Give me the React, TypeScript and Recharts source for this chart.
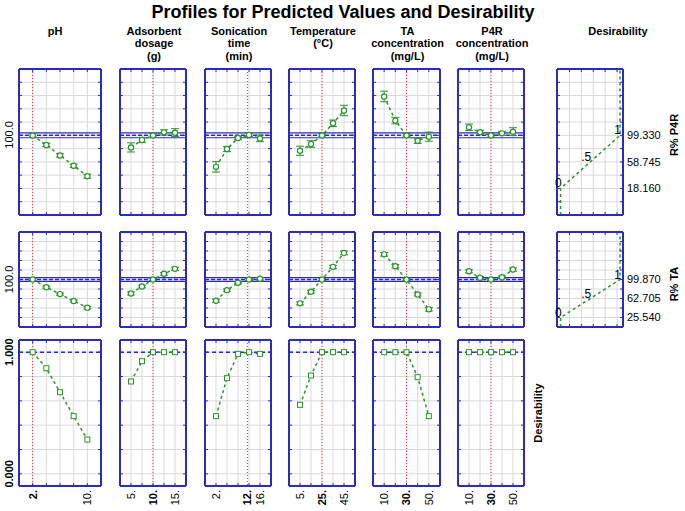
import React from "react";
import {
  LineChart, Line, XAxis, YAxis, CartesianGrid,
  ReferenceLine, ErrorBar, LabelList,
} from "recharts";

const FONT = "'Liberation Sans', Arial, sans-serif";
const BLUE = "#2b2bbf";
const GREEN = "#2a962a";
const RED = "#e23b3b";
const GRID = "#d9d9d9";

// factors (columns)
const HEADERS = [
  ["pH"],
  ["Adsorbent", "dosage", "(g)"],
  ["Sonication", "time", "(min)"],
  ["Temperature", "(°C)"],
  ["TA", "concentration", "(mg/L)"],
  ["P4R", "concentration", "(mg/L)"],
];
const X_LEVELS = [
  [2, 4, 6, 8, 10],
  [5, 7.5, 10, 12.5, 15],
  [2, 5.5, 9, 12.5, 16],
  [5, 15, 25, 35, 45],
  [10, 20, 30, 40, 50],
  [10, 20, 30, 40, 50],
];
const X_CURRENT = [2, 10, 12, 25, 30, 30];
const X_LABELS = [[2, 10], [5, 10, 15], [2, 12, 16], [5, 25, 45], [10, 30, 50], [10, 30, 50]];

// responses
const P4R_VALUES = [
  [99.3, 84.6, 68.6, 52.8, 36.9],
  [80.9, 92.3, 99.3, 103.9, 103.5],
  [51.2, 78.4, 95.3, 100.0, 94.7],
  [75.8, 86.1, 99.3, 117.8, 137.3],
  [158.8, 121.9, 99.3, 91.1, 97.3],
  [111.6, 104.0, 99.3, 102.4, 105.0],
];
const P4R_ERRORS = [
  [2.5, 2.5, 2.5, 2.5, 3],
  [7, 4, 2.5, 4, 6],
  [8, 4, 2.5, 2.5, 5],
  [7, 5, 2.5, 5, 8],
  [8, 5, 2.5, 4, 7],
  [5, 3, 2.5, 3, 6],
];
const TA_VALUES = [
  [99.9, 84.9, 71.3, 57.7, 44.8],
  [72.6, 86.2, 99.9, 111.0, 120.7],
  [58.4, 79.0, 93.4, 99.9, 101.2],
  [53.2, 75.9, 99.9, 124.6, 151.8],
  [149.1, 125.8, 99.9, 70.7, 41.5],
  [116.0, 103.2, 99.9, 104.3, 119.3],
];
const TA_ERRORS = [
  [2, 2, 2, 2, 2.5],
  [3, 2.5, 2, 2.5, 3],
  [3, 2.5, 2, 2, 2.5],
  [3, 2.5, 2, 3, 3.5],
  [3.5, 3, 2, 3, 3.5],
  [3, 2.5, 2, 2.5, 3],
];
const DESIR_VALUES = [
  [1.0, 0.868, 0.671, 0.474, 0.282],
  [0.759, 0.926, 1.0, 1.0, 1.0],
  [0.474, 0.786, 0.986, 1.0, 0.986],
  [0.567, 0.808, 1.0, 1.0, 1.0],
  [1.0, 1.0, 1.0, 0.795, 0.474],
  [1.0, 1.0, 1.0, 1.0, 1.0],
];

const P4R_PRED = 99.33;
const P4R_CI = [95.7, 103.0];
const TA_PRED = 99.87;
const TA_CI = [96.3, 103.4];
const P4R_LIMITS = [18.16, 58.745, 99.33];
const TA_LIMITS = [25.54, 62.705, 99.87];
const DESIR_LEVELS = [0, 0.5, 1];
const DESIR_MARKS = ["0", ".5", "1"];
const DESIR_TICKS = [0, 1];
const DESIR_GRID = [0, 0.2, 0.4, 0.6, 0.8, 1];
const DESIR_XGRID = [0.15, 0.35, 0.55, 0.75, 0.95];

// layout
const COL_LEFT = [19, 120, 205, 289, 373, 458];
const COL_W = [82, 66, 66, 66, 67, 66];
const D_LEFT = 557;
const D_W = 66;
const MT = 4;

const noTick = () => <g />;

type Pt = { x: number; y: number; err?: number; mark?: string };

interface PanelOpts {
  left: number; top: number; width: number; height: number;
  ml: number; mr: number; mb: number;
  data: Pt[];
  xDomain: [number, number]; xGrid: number[];
  yDomain: [number, number]; yGrid: number[];
  current?: number;
  band?: { pred: number; lo: number; hi: number };
  target?: number;
  marker: "circle" | "square" | "none";
  xLabels?: number[];
  leftLabels?: { values: number[]; digits: number; bold: boolean };
  rightLabels?: number[];
}

function Panel(o: PanelOpts) {
  const W = o.ml + o.width + o.mr;
  const H = MT + o.height + o.mb;
  const bottom = MT + o.height;
  const frame = { stroke: BLUE, strokeWidth: 2 };

  const xLabelTick = (p: any) => {
    const v = p.payload.value;
    const y = bottom + 4;
    return (
      <text x={p.x} y={y} transform={`rotate(-90 ${p.x} ${y})`} dy="0.35em" textAnchor="end"
        fontSize={11} fontFamily={FONT} fill="#000" fontWeight={v === o.current ? "bold" : "normal"}>
        {v}.
      </text>
    );
  };
  const yLabelTick = (p: any) => (
    <text x={9} y={p.y} transform={`rotate(-90 9 ${p.y})`} dy="0.35em" textAnchor="middle"
      fontSize={11} fontFamily={FONT} fill="#000" fontWeight={o.leftLabels?.bold ? "bold" : "normal"}>
      {Number(p.payload.value).toFixed(o.leftLabels?.digits ?? 1)}
    </text>
  );
  const rLabelTick = (p: any) => (
    <text x={o.ml + o.width + 4} y={p.y} dy="0.35em" textAnchor="start"
      fontSize={11} fontFamily={FONT} fill="#000">
      {Number(p.payload.value).toFixed(3)}
    </text>
  );
  const markLabel = (p: any) =>
    p.value ? (
      <text x={p.x + 1} y={p.y - 1} textAnchor="end" fontSize={12} fontFamily={FONT} fill="#000">
        {p.value}
      </text>
    ) : null;
  const squareDot = (p: any) => (
    <rect key={p.index} x={p.cx - 2.5} y={p.cy - 2.5} width={5} height={5} fill="#fff" stroke={GREEN} strokeWidth={1} />
  );

  return (
    <div style={{ position: "absolute", left: o.left - o.ml, top: o.top - MT }}>
      <LineChart width={W} height={H} data={o.data} margin={{ top: MT, right: o.mr, bottom: o.mb, left: o.ml }}>
        <CartesianGrid xAxisId="g" yAxisId="g" stroke={GRID} strokeWidth={1} />
        <XAxis xAxisId="g" orientation="top" mirror type="number" dataKey="x" domain={o.xDomain} allowDataOverflow
          ticks={o.xGrid} interval={0} tickSize={3} tick={noTick} tickLine={{ stroke: BLUE }} axisLine={frame} />
        <XAxis xAxisId="b" orientation="bottom" mirror type="number" dataKey="x" domain={o.xDomain} allowDataOverflow
          ticks={o.xGrid} interval={0} tickSize={3} tick={noTick} tickLine={{ stroke: BLUE }} axisLine={frame} />
        {o.xLabels && (
          <XAxis xAxisId="lab" orientation="bottom" mirror type="number" dataKey="x" domain={o.xDomain} allowDataOverflow
            ticks={o.xLabels} interval={0} tick={xLabelTick} tickLine={false} axisLine={false} />
        )}
        <YAxis yAxisId="g" orientation="left" mirror type="number" domain={o.yDomain} allowDataOverflow
          ticks={o.yGrid} interval={0} tickSize={3} tick={noTick} tickLine={{ stroke: BLUE }} axisLine={frame} />
        <YAxis yAxisId="r" orientation="right" mirror type="number" domain={o.yDomain} allowDataOverflow
          ticks={o.yGrid} interval={0} tickSize={3} tick={noTick} tickLine={{ stroke: BLUE }} axisLine={frame} />
        {o.leftLabels && (
          <YAxis yAxisId="ll" orientation="left" mirror type="number" domain={o.yDomain} allowDataOverflow
            ticks={o.leftLabels.values} interval={0} tick={yLabelTick} tickLine={false} axisLine={false} />
        )}
        {o.rightLabels && (
          <YAxis yAxisId="rl" orientation="right" mirror type="number" domain={o.yDomain} allowDataOverflow
            ticks={o.rightLabels} interval={0} tick={rLabelTick} tickLine={false} axisLine={false} />
        )}
        {o.band && <ReferenceLine xAxisId="g" yAxisId="g" y={o.band.lo} stroke={BLUE} strokeWidth={1.2} />}
        {o.band && <ReferenceLine xAxisId="g" yAxisId="g" y={o.band.hi} stroke={BLUE} strokeWidth={1.2} />}
        {o.band && <ReferenceLine xAxisId="g" yAxisId="g" y={o.band.pred} stroke={BLUE} strokeWidth={1.5} strokeDasharray="4 2" />}
        {o.target != null && <ReferenceLine xAxisId="g" yAxisId="g" y={o.target} stroke={BLUE} strokeWidth={1.5} strokeDasharray="4 3" />}
        {o.current != null && <ReferenceLine xAxisId="g" yAxisId="g" x={o.current} stroke={RED} strokeWidth={1} strokeDasharray="1 2" />}
        <Line xAxisId="g" yAxisId="g" dataKey="y" type="linear" isAnimationActive={false}
          stroke={GREEN} strokeWidth={1.5} strokeDasharray="3 3"
          dot={o.marker === "circle" ? { r: 2.6, stroke: GREEN, strokeWidth: 1.2, fill: "#fff", strokeDasharray: "" } : o.marker === "square" ? squareDot : false}
          activeDot={false}>
          {o.marker === "circle" && <ErrorBar dataKey="err" width={4} stroke={GREEN} strokeWidth={1} direction="y" />}
          {o.marker === "none" && <LabelList dataKey="mark" content={markLabel} />}
        </Line>
      </LineChart>
    </div>
  );
}

const RESPONSE_ROWS = [
  { top: 69, h: 146, values: P4R_VALUES, errors: P4R_ERRORS, pred: P4R_PRED, ci: P4R_CI, limits: P4R_LIMITS, below: 6, above: 5 },
  { top: 232, h: 95, values: TA_VALUES, errors: TA_ERRORS, pred: TA_PRED, ci: TA_CI, limits: TA_LIMITS, below: 5, above: 5 },
];
const DESIR_ROW = { top: 340, h: 146 };

export default function App() {
  const panels: React.ReactNode[] = [];

  RESPONSE_ROWS.forEach((row, r) => {
    const step = (row.limits[2] - row.limits[0]) / 4;
    const yDomain: [number, number] = [row.limits[2] - row.below * step, row.limits[2] + row.above * step];
    const yGrid: number[] = [];
    for (let k = -(row.below - 1); k <= row.above - 1; k++) yGrid.push(row.limits[2] + k * step);

    X_LEVELS.forEach((lv, c) => {
      const xs = lv[1] - lv[0];
      const data = lv.map((x, i) => ({ x, y: row.values[c][i], err: row.errors[c][i] }));
      panels.push(
        <Panel key={`r${r}c${c}`} left={COL_LEFT[c]} top={row.top} width={COL_W[c]} height={row.h}
          ml={c === 0 ? 19 : 6} mr={6} mb={4} data={data}
          xDomain={[lv[0] - xs, lv[4] + xs]} xGrid={lv} yDomain={yDomain} yGrid={yGrid}
          current={X_CURRENT[c]} band={{ pred: row.pred, lo: row.ci[0], hi: row.ci[1] }} marker="circle"
          leftLabels={c === 0 ? { values: [100], digits: 1, bold: false } : undefined} />
      );
    });

    // desirability function panel
    const dData = [
      { x: DESIR_LEVELS[0], y: yDomain[0], mark: "" },
      ...DESIR_LEVELS.map((d, i) => ({ x: d, y: row.limits[i], mark: DESIR_MARKS[i] })),
      { x: DESIR_LEVELS[2], y: yDomain[1], mark: "" },
    ];
    panels.push(
      <Panel key={`d${r}`} left={D_LEFT} top={row.top} width={D_W} height={row.h}
        ml={6} mr={62} mb={4} data={dData}
        xDomain={[-0.06, 1.05]} xGrid={DESIR_XGRID} yDomain={yDomain} yGrid={yGrid}
        marker="none" rightLabels={row.limits} />
    );
  });

  X_LEVELS.forEach((lv, c) => {
    const xs = lv[1] - lv[0];
    const data = lv.map((x, i) => ({ x, y: DESIR_VALUES[c][i] }));
    panels.push(
      <Panel key={`dr${c}`} left={COL_LEFT[c]} top={DESIR_ROW.top} width={COL_W[c]} height={DESIR_ROW.h}
        ml={c === 0 ? 19 : 6} mr={6} mb={26} data={data}
        xDomain={[lv[0] - xs, lv[4] + xs]} xGrid={lv} yDomain={[-0.1, 1.1]} yGrid={DESIR_GRID}
        current={X_CURRENT[c]} target={1} marker="square" xLabels={X_LABELS[c]}
        leftLabels={c === 0 ? { values: DESIR_TICKS, digits: 3, bold: true } : undefined} />
    );
  });

  return (
    <div style={{ position: "absolute", left: 0, top: 0, width: 685, height: 511, background: "#fff", fontFamily: FONT }}>
      {panels}
      <svg width={685} height={511} style={{ position: "absolute", left: 0, top: 0, pointerEvents: "none" }}>
        <text x={343} y={18} textAnchor="middle" fontSize={18} fontWeight="bold" fontFamily={FONT}>
          Profiles for Predicted Values and Desirability
        </text>
        {HEADERS.map((lines, c) =>
          lines.map((t, i) => (
            <text key={`h${c}-${i}`} x={c === 0 ? 55 : COL_LEFT[c] + COL_W[c] / 2 + 1} y={34.5 + i * 12.5}
              textAnchor="middle" fontSize={11} fontWeight="bold" fontFamily={FONT}>{t}</text>
          ))
        )}
        <text x={618} y={34.5} textAnchor="middle" fontSize={11} fontWeight="bold" fontFamily={FONT}>Desirability</text>
        <text x={674} y={135} transform="rotate(-90 674 135)" dy="0.35em" textAnchor="middle" fontSize={11} fontWeight="bold" fontFamily={FONT}>R% P4R</text>
        <text x={674} y={284} transform="rotate(-90 674 284)" dy="0.35em" textAnchor="middle" fontSize={11} fontWeight="bold" fontFamily={FONT}>R% TA</text>
        <text x={538} y={413} transform="rotate(-90 538 413)" dy="0.35em" textAnchor="middle" fontSize={11} fontWeight="bold" fontFamily={FONT}>Desirability</text>
      </svg>
    </div>
  );
}
